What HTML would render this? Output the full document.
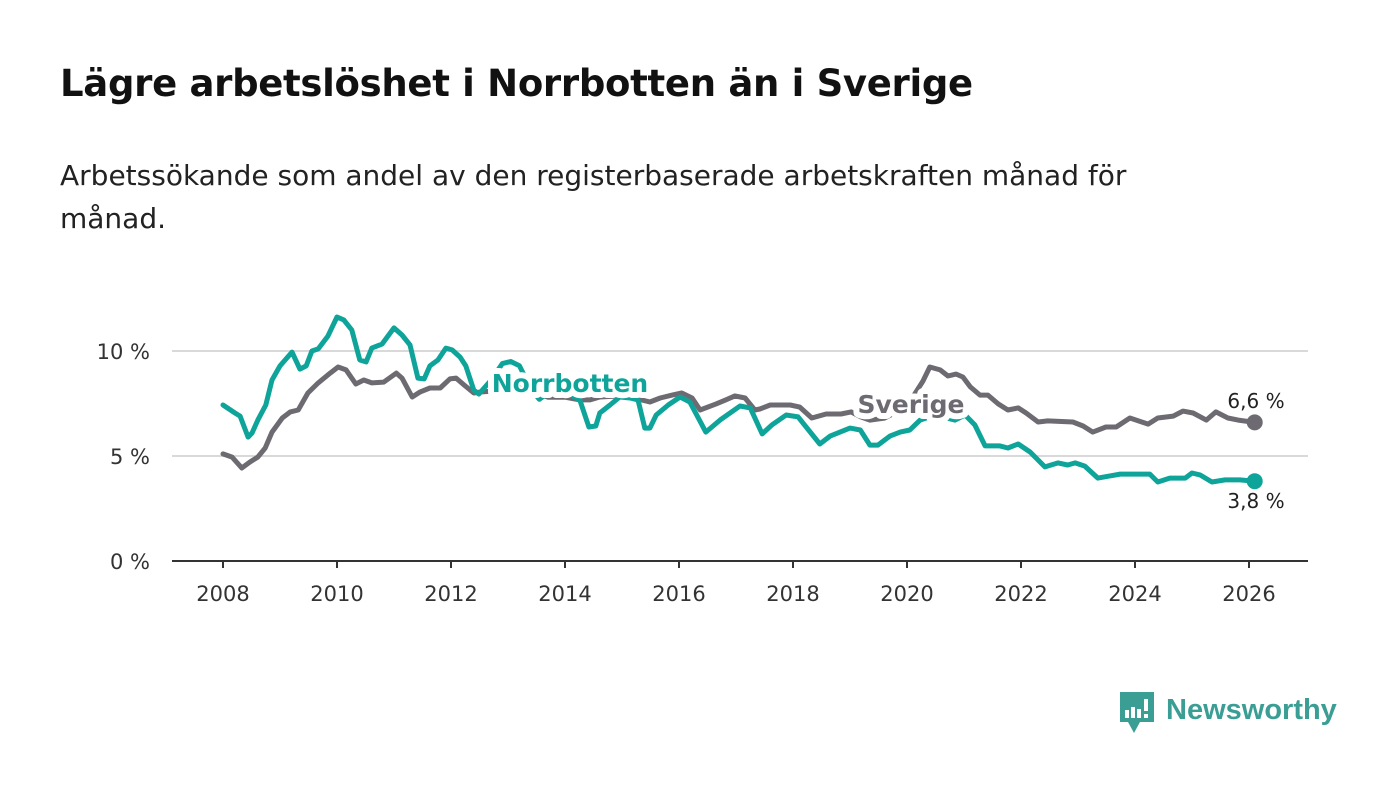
<!DOCTYPE html>
<html><head><meta charset="utf-8"><style>
body{margin:0;background:#fff;font-family:"DejaVu Sans","Liberation Sans",sans-serif;}
#wrap{position:relative;width:1400px;height:794px;overflow:hidden;}
h1{position:absolute;left:60px;top:62px;margin:0;font-size:37px;font-weight:bold;color:#111;letter-spacing:-0.3px;}
#sub{position:absolute;left:60px;top:154px;width:1170px;margin:0;font-size:28px;line-height:43px;color:#222;}
svg{position:absolute;left:0;top:0;}
</style></head><body>
<div id="wrap">
<h1>Lägre arbetslöshet i Norrbotten än i Sverige</h1>
<p id="sub">Arbetssökande som andel av den registerbaserade arbetskraften månad för månad.</p>
<svg id="chart" width="1400" height="794"></svg>
</div>
<script>
const norrDates=[2008.00,2008.21,2008.30,2008.44,2008.51,2008.61,2008.75,2008.86,2009.00,2009.21,2009.35,2009.46,2009.56,2009.67,2009.84,2010.00,2010.12,2010.26,2010.40,2010.51,2010.61,2010.79,2011.00,2011.14,2011.28,2011.42,2011.53,2011.63,2011.77,2011.91,2012.02,2012.16,2012.26,2012.40,2012.49,2012.7,2012.9,2013.05,2013.2,2013.4,2013.55,2013.7,2013.9,2014.1,2014.26,2014.42,2014.54,2014.61,2014.79,2014.96,2015.14,2015.28,2015.40,2015.49,2015.60,2015.81,2016.02,2016.19,2016.47,2016.72,2017.07,2017.25,2017.46,2017.63,2017.88,2018.09,2018.47,2018.65,2019.00,2019.18,2019.35,2019.49,2019.70,2019.88,2020.05,2020.23,2020.49,2020.84,2021.02,2021.19,2021.37,2021.63,2021.77,2021.95,2022.16,2022.42,2022.65,2022.82,2022.95,2023.12,2023.35,2023.56,2023.74,2024.26,2024.40,2024.61,2024.88,2025.00,2025.14,2025.35,2025.58,2025.84,2026.1];
const norrValues=[7.43,7.05,6.90,5.90,6.10,6.71,7.43,8.62,9.29,9.95,9.14,9.29,10.0,10.1,10.71,11.62,11.48,11.0,9.57,9.48,10.14,10.33,11.1,10.76,10.29,8.71,8.67,9.29,9.57,10.14,10.05,9.71,9.29,8.14,7.95,8.6,9.4,9.5,9.3,8.2,7.7,8.0,8.1,7.9,7.67,6.38,6.43,7.05,7.43,7.81,7.76,7.67,6.33,6.33,6.95,7.43,7.81,7.57,6.14,6.71,7.38,7.29,6.05,6.48,6.95,6.86,5.57,5.95,6.33,6.24,5.52,5.52,5.95,6.14,6.24,6.71,6.95,6.71,6.95,6.48,5.48,5.48,5.38,5.57,5.19,4.48,4.67,4.57,4.67,4.52,3.95,4.05,4.14,4.14,3.76,3.95,3.95,4.19,4.10,3.76,3.86,3.86,3.8];
const sveDates=[2008.00,2008.16,2008.33,2008.47,2008.61,2008.74,2008.86,2009.04,2009.18,2009.32,2009.49,2009.67,2009.88,2010.02,2010.16,2010.33,2010.47,2010.61,2010.82,2011.04,2011.14,2011.32,2011.46,2011.63,2011.81,2011.98,2012.09,2012.23,2012.40,2012.54,2012.8,2013.1,2013.4,2013.7,2014.0,2014.26,2014.44,2014.61,2014.96,2015.21,2015.49,2015.67,2015.88,2016.05,2016.23,2016.37,2016.65,2016.82,2016.98,2017.16,2017.33,2017.42,2017.60,2017.95,2018.12,2018.33,2018.58,2018.84,2019.02,2019.19,2019.35,2019.6,2019.9,2020.1,2020.28,2020.40,2020.58,2020.72,2020.86,2020.98,2021.11,2021.28,2021.42,2021.60,2021.77,2021.95,2022.09,2022.30,2022.47,2022.91,2023.09,2023.26,2023.49,2023.67,2023.91,2024.23,2024.40,2024.67,2024.84,2025.02,2025.25,2025.42,2025.63,2025.81,2026.1];
const sveValues=[5.1,4.95,4.43,4.71,4.95,5.38,6.14,6.81,7.1,7.19,8.0,8.48,8.95,9.24,9.1,8.43,8.62,8.48,8.52,8.95,8.71,7.81,8.05,8.24,8.24,8.67,8.71,8.38,8.0,8.05,8.1,8.3,8.1,7.8,7.8,7.67,7.67,7.81,7.86,7.76,7.57,7.76,7.9,8.0,7.76,7.19,7.48,7.67,7.86,7.76,7.19,7.24,7.43,7.43,7.33,6.81,7.0,7.0,7.1,6.86,6.71,6.8,7.2,7.8,8.57,9.24,9.1,8.81,8.9,8.76,8.29,7.9,7.9,7.48,7.19,7.29,7.05,6.62,6.67,6.62,6.43,6.14,6.38,6.38,6.81,6.52,6.81,6.9,7.14,7.05,6.71,7.1,6.81,6.71,6.6];
const xTicks=[2008,2010,2012,2014,2016,2018,2020,2022,2024,2026];
const yTicks=[0,5,10];
const yTickLabels=["0 %","5 %","10 %"];
const endLabels=["6,6 %","3,8 %"];

const NS="http://www.w3.org/2000/svg";
const svg=document.getElementById('chart');
const xS=v=>223+(v-2008)*57;
const yS=v=>561-v*21;
function mk(tag,attrs,parent){const e=document.createElementNS(NS,tag);for(const k in attrs)e.setAttribute(k,attrs[k]);(parent||svg).appendChild(e);return e;}
const TEAL="#0ea49a",GREY="#6d6b71";
yTicks.forEach((t,i)=>{
  if(t>0){const g=mk('line',{x1:172,x2:1308,y1:yS(t),y2:yS(t),stroke:'#d9d9d9','stroke-width':2});
  
  }
  const l=mk('text',{x:150,y:yS(t)+8,'text-anchor':'end','font-size':21,fill:'#333','font-family':'"DejaVu Sans","Liberation Sans",sans-serif'});
  l.textContent=yTickLabels[i];
  
  
});
const ax=mk('line',{x1:172,x2:1308,y1:561,y2:561,stroke:'#333','stroke-width':2});


xTicks.forEach(t=>{
  const tk=mk('line',{x1:xS(t),x2:xS(t),y1:561,y2:568,stroke:'#333','stroke-width':2});
  
  
  const l=mk('text',{x:xS(t),y:601,'text-anchor':'middle','font-size':21,fill:'#333','font-family':'"DejaVu Sans","Liberation Sans",sans-serif'});
  l.textContent=t;
  
  
});
function line(d,v,c,name){
  const p=mk('path',{d:d.map((x,i)=>(i?'L':'M')+xS(x).toFixed(1)+','+yS(v[i]).toFixed(1)).join(''),fill:'none',stroke:c,'stroke-width':5,'stroke-linejoin':'round','stroke-linecap':'round'});
  
  
  const dot=mk('circle',{cx:xS(d[d.length-1]),cy:yS(v[v.length-1]),r:8,fill:c});
  
  
}
line(sveDates,sveValues,GREY,'sverige-line');
line(norrDates,norrValues,TEAL,'norrbotten-line');
function lab(txt,x,y,c,name,bold,size,halo,sw){
  const t=mk('text',{x:x,y:y,fill:c,'font-size':size,'font-weight':bold?'bold':'normal','font-family':'"DejaVu Sans","Liberation Sans",sans-serif','text-anchor':'middle',stroke:halo?'#fff':'none','stroke-width':halo?sw:0,'paint-order':'stroke','stroke-linejoin':'round'});
  t.textContent=txt;
  
  
}
lab('Norrbotten',570,392,TEAL,'norrbotten-label',true,25,true,12);
lab('Sverige',911,413,GREY,'sverige-label',true,25,true,12);
lab(endLabels[0],1256,408,'#222','sverige-end-value',false,20,true,6);
lab(endLabels[1],1256,508,'#222','norrbotten-end-value',false,20,true,6);
</script>
<svg width="1400" height="794" style="pointer-events:none">
<path d="M1120 692h34v30h-14l-6 11-6-11h-8z" fill="#3a9e94"/>
<rect x="1125" y="710" width="4" height="8" fill="#fff"/><rect x="1131" y="707" width="4" height="11" fill="#fff"/><rect x="1137" y="709" width="4" height="9" fill="#fff"/><rect x="1144" y="699" width="4" height="12" fill="#fff"/><rect x="1144" y="714" width="4" height="4" fill="#fff"/>
<text x="1166" y="719" font-size="29" font-weight="bold" fill="#3a9e94" font-family="Liberation Sans,sans-serif">Newsworthy</text>
</svg>
</body></html>
